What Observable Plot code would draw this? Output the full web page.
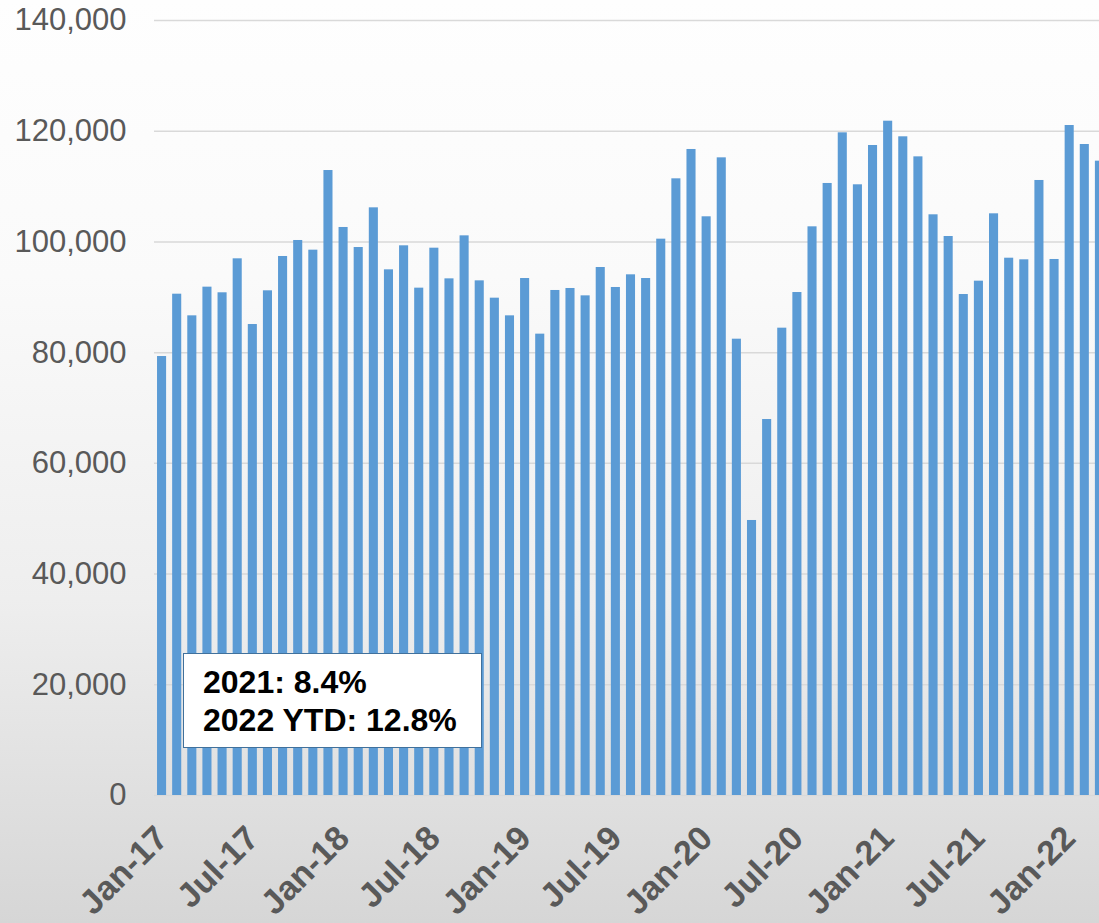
<!DOCTYPE html>
<html>
<head>
<meta charset="utf-8">
<script src="https://cdn.jsdelivr.net/npm/d3@7"></script>
<script src="https://cdn.jsdelivr.net/npm/@observablehq/plot@0.6"></script>
<style>
  html, body { margin: 0; padding: 0; overflow: hidden; }
  #chart {
    position: relative; width: 1099px; height: 923px; overflow: hidden;
    background: linear-gradient(to bottom, #fefefe 0%, #fafafa 30%, #eeeeee 65%, #d6d6d6 100%);
  }
  #chart svg { position: absolute; left: 0; top: 0; }
  #note {
    position: absolute; left: 183px; top: 653px; width: 297px; height: 93px;
    background: #ffffff; border: 1.5px solid #41719c;
    font-family: Arial, "Liberation Sans", sans-serif; font-weight: bold; font-size: 32px;
    line-height: 38px; color: #000; box-sizing: content-box;
    padding: 0;
  }
  #note div { padding-left: 19px; white-space: nowrap; }
  #note div:first-child { margin-top: 9px; }
</style>
</head>
<body>
<div id="chart">
  <div id="note"><div>2021: 8.4%</div><div>2022 YTD: 12.8%</div></div>
</div>
<script>
const monthNames = ["Jan","Feb","Mar","Apr","May","Jun","Jul","Aug","Sep","Oct","Nov","Dec"];
const years = ["17","18","19","20","21","22"];
const lastYearMonths = 3; // data runs to Mar-22
const values = [
  79300, 90560, 86650, 91830, 90810, 96950, 85080, 91170, 97370, 100260, 98510, 112900,
  102610, 98990, 106160, 94960, 99300, 91650, 98870, 93330, 101100, 92970, 89840, 86650,
  93390, 83340, 91230, 91590, 90260, 95380, 91770, 94060, 93390, 100500, 111400, 116700,
  104540, 115190, 82430, 49680, 67920, 84420, 90860, 102730, 110560, 119710, 110320, 117420,
  121810, 118990, 115370, 104900, 100980, 90500, 92910, 105080, 97060, 96770, 111100, 96830,
  121030, 117600, 114590
];
const yTicks = [0, 20000, 40000, 60000, 80000, 100000, 120000, 140000];

const months = [];
years.forEach((y, yi) => {
  const n = yi === years.length - 1 ? lastYearMonths : 12;
  for (let m = 0; m < n; m++) months.push(`${monthNames[m]}-${y}`);
});
const data = months.map((month, i) => ({month, value: values[i]}));
const xTicks = months.filter(m => m.startsWith("Jan") || m.startsWith("Jul"));

const chart = Plot.plot({
  width: 1099,
  height: 923,
  marginLeft: 154,
  marginRight: -8,
  marginTop: 20,
  marginBottom: 128,
  style: {background: "transparent", fontFamily: "Arial, 'Liberation Sans', sans-serif", overflow: "hidden"},
  x: {domain: months, paddingInner: 0.4, paddingOuter: 0.2, round: false, label: null},
  y: {domain: [0, 140000], label: null},
  marks: [
    Plot.ruleY(yTicks, {stroke: "#d9d9d9", strokeWidth: 1.5}),
    Plot.barY(data, {x: "month", y: "value", fill: "#5b9bd5"}),
    Plot.axisY({ticks: yTicks, tickFormat: d3.format(","), tickSize: 0, tickPadding: 28,
      fontSize: 31, color: "#595959", label: null}),
    Plot.axisX({ticks: xTicks, tickSize: 0, tickPadding: 37, tickRotate: -45,
      fontSize: 34, fontWeight: "bold", color: "#595959", label: null})
  ]
});
document.getElementById("chart").prepend(chart);
</script>
</body>
</html>
